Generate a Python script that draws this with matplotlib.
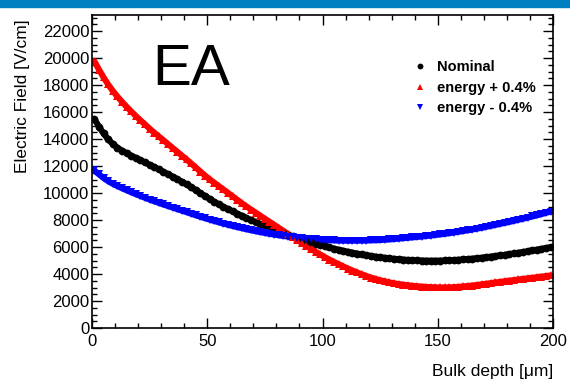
import matplotlib
matplotlib.use("Agg")
import matplotlib.pyplot as plt
from matplotlib.patches import Rectangle
from matplotlib.ticker import MultipleLocator

plt.rcParams['font.family'] = ['Liberation Sans', 'DejaVu Sans']

depth = list(range(1, 200, 2))

nominal = [15500, 14930, 14420, 13990, 13640, 13370, 13150, 12960, 12780, 12610,
           12440, 12270, 12100, 11930, 11760, 11580, 11400, 11220, 11030, 10840,
           10650, 10440, 10225, 10005, 9785, 9570, 9360, 9167, 8990, 8816,
           8646, 8480, 8317, 8159, 8004, 7854, 7707, 7564, 7425, 7290,
           7158, 7031, 6907, 6787, 6671, 6559, 6451, 6347, 6246, 6150,
           6057, 5968, 5883, 5802, 5725, 5651, 5582, 5516, 5454, 5396,
           5342, 5292, 5246, 5203, 5164, 5130, 5099, 5072, 5048, 5029,
           5014, 5002, 4994, 4990, 4990, 4995, 5005, 5020, 5038, 5060,
           5085, 5110, 5140, 5175, 5210, 5250, 5290, 5335, 5380, 5425,
           5475, 5525, 5580, 5635, 5690, 5750, 5810, 5870, 5930, 5990]

energy_plus = [19780, 19160, 18580, 18050, 17580, 17160, 16770, 16400, 16050, 15720,
               15400, 15085, 14775, 14480, 14198, 13916, 13630, 13346, 13061, 12776,
               12491, 12200, 11900, 11600, 11300, 11024, 10772, 10520, 10270, 10015,
               9760, 9503, 9247, 9007, 8780, 8550, 8325, 8098, 7874, 7650,
               7426, 7202, 6978, 6750, 6525, 6300, 6080, 5865, 5655, 5450,
               5255, 5070, 4895, 4725, 4565, 4410, 4260, 4115, 3980, 3855,
               3740, 3635, 3540, 3455, 3380, 3315, 3258, 3208, 3165, 3128,
               3096, 3068, 3045, 3027, 3013, 3004, 3002, 3010, 3025, 3050,
               3080, 3115, 3150, 3190, 3235, 3280, 3325, 3375, 3420, 3465,
               3510, 3550, 3595, 3640, 3680, 3720, 3765, 3810, 3850, 3895]

energy_minus = [11680, 11390, 11120, 10885, 10690, 10520, 10362, 10210, 10064, 9922,
                9784, 9650, 9520, 9394, 9272, 9154, 9038, 8924, 8812, 8700,
                8590, 8472, 8357, 8246, 8138, 8034, 7933, 7835, 7741, 7650,
                7562, 7478, 7397, 7320, 7246, 7175, 7108, 7044, 6983, 6926,
                6872, 6822, 6775, 6731, 6691, 6654, 6620, 6590, 6564, 6540,
                6520, 6504, 6491, 6481, 6474, 6471, 6470, 6472, 6477, 6484,
                6494, 6506, 6522, 6542, 6565, 6592, 6622, 6653, 6685, 6716,
                6748, 6781, 6815, 6852, 6892, 6935, 6980, 7028, 7078, 7130,
                7184, 7240, 7300, 7362, 7425, 7500, 7570, 7640, 7715, 7790,
                7860, 7940, 8020, 8100, 8180, 8265, 8350, 8440, 8535, 8630]

labels = ["Nominal", "energy + 0.4%", "energy - 0.4%"]

fig = plt.figure(figsize=(5.70, 3.83), dpi=100)
fig.patches.append(Rectangle((0, 1 - 7 / 383), 1, 7 / 383, transform=fig.transFigure,
                             color="#0080c0", zorder=0))
ax = fig.add_axes([92 / 570, 1 - 328 / 383, (553 - 92) / 570, (328 - 15) / 383])

ms = 5.6
lw = 4.4
# thick band joining the dense markers
ax.plot(depth, nominal, '-', color='black', lw=lw, solid_capstyle='round')
ax.plot(depth, energy_plus, '-', color='red', lw=lw, solid_capstyle='round')
ax.plot(depth, energy_minus, '-', color='blue', lw=lw, solid_capstyle='round')
ax.plot(depth, nominal, 'o', color='black', ms=ms, mew=0, label=labels[0])
ax.plot(depth, energy_plus, '^', color='red', ms=ms + 0.6, mew=0, label=labels[1])
ax.plot(depth, energy_minus, 'v', color='blue', ms=ms + 0.6, mew=0, label=labels[2])

ax.set_xlim(0, 200)
ax.set_ylim(0, 23200)
ax.xaxis.set_major_locator(MultipleLocator(50))
ax.xaxis.set_minor_locator(MultipleLocator(10))
ax.yaxis.set_major_locator(MultipleLocator(2000))
ax.yaxis.set_minor_locator(MultipleLocator(500))
ax.tick_params(which='both', direction='in', top=True, right=True, width=1, labelsize=12)
ax.tick_params(which='major', length=7)
ax.tick_params(which='minor', length=3.5)
ax.tick_params(axis='x', pad=4)
ax.tick_params(axis='y', pad=2)
for s in ax.spines.values():
    s.set_linewidth(1.2)

ax.set_ylabel("Electric Field [V/cm]", fontsize=12.5)
ax.yaxis.set_label_coords(-0.1345, 0.985)
ax.yaxis.label.set_horizontalalignment('right')
ax.set_xlabel("Bulk depth [μm]", fontsize=12.5)
ax.xaxis.set_label_coords(1.0, -0.115)
ax.xaxis.label.set_horizontalalignment('right')

ax.text(152 / 570, 1 - 85 / 383, "EA", transform=fig.transFigure, fontsize=42,
        ha='left', va='baseline')

leg = ax.legend(loc='upper left', bbox_to_anchor=(0.669, 0.898), frameon=False,
                prop={'weight': 'bold', 'size': 10.5}, markerscale=0.75,
                handlelength=0.9, handletextpad=0.7, labelspacing=0.45)

fig.savefig("out.png", dpi=100)
